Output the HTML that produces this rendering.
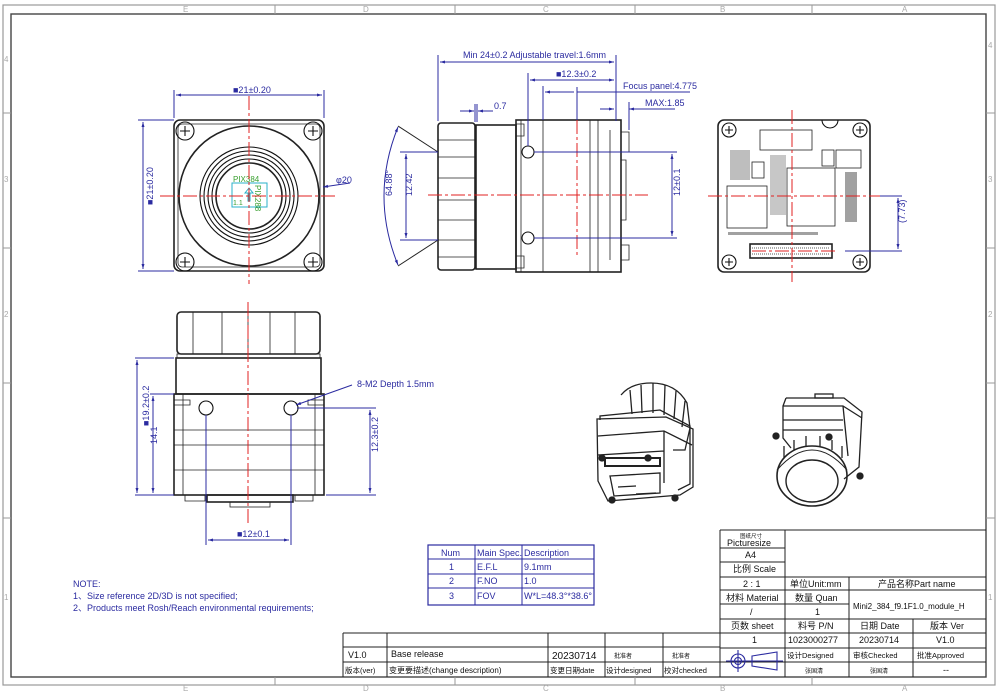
<!DOCTYPE html>
<html><head><meta charset="utf-8"><style>
html,body{margin:0;padding:0;background:#fff}
svg{display:block}
text{font-family:"Liberation Sans","Noto Sans CJK SC",sans-serif}
.b{stroke:#2b2ba0;fill:none;stroke-width:1}
.bt{fill:#2b2ba0;font-size:9px}
.k{stroke:#222;fill:none;stroke-width:1.6}
.kt{stroke:#222;fill:none;stroke-width:0.8}
.r{stroke:#e02020;fill:none;stroke-width:1;stroke-dasharray:14 3 3 3}
.g{stroke:#111;fill:none;stroke-width:1.1}
.t{fill:#111;font-size:9px}
</style></head><body>
<svg width="1000" height="692" viewBox="0 0 1000 692" xmlns="http://www.w3.org/2000/svg">
<defs>
<marker id="a" viewBox="0 0 10 10" refX="10" refY="5" markerWidth="7" markerHeight="5" orient="auto-start-reverse"><path d="M0,2 L10,5 L0,8z" fill="#2b2ba0"/></marker>
</defs>
<!-- frame -->
<rect x="3" y="5" width="992" height="680" fill="none" stroke="#999" stroke-width="1.2"/>
<rect x="11" y="14" width="975" height="663" fill="none" stroke="#444" stroke-width="1.4"/>
<g stroke="#999" stroke-width="1">
<line x1="275" y1="5" x2="275" y2="14"/><line x1="455" y1="5" x2="455" y2="14"/><line x1="635" y1="5" x2="635" y2="14"/><line x1="812" y1="5" x2="812" y2="14"/>
<line x1="275" y1="677" x2="275" y2="685"/><line x1="455" y1="677" x2="455" y2="685"/><line x1="635" y1="677" x2="635" y2="685"/><line x1="812" y1="677" x2="812" y2="685"/>
<line x1="3" y1="113" x2="11" y2="113"/><line x1="3" y1="248" x2="11" y2="248"/><line x1="3" y1="383" x2="11" y2="383"/><line x1="3" y1="518" x2="11" y2="518"/>
<line x1="986" y1="113" x2="995" y2="113"/><line x1="986" y1="248" x2="995" y2="248"/><line x1="986" y1="383" x2="995" y2="383"/><line x1="986" y1="518" x2="995" y2="518"/>
</g>
<g fill="#aaa" font-size="8">
<text x="183" y="12">E</text><text x="363" y="12">D</text><text x="543" y="12">C</text><text x="720" y="12">B</text><text x="902" y="12">A</text>
<text x="183" y="691">E</text><text x="363" y="691">D</text><text x="543" y="691">C</text><text x="720" y="691">B</text><text x="902" y="691">A</text>
<text x="4" y="62">4</text><text x="4" y="182">3</text><text x="4" y="317">2</text><text x="4" y="600">1</text>
<text x="988" y="48">4</text><text x="988" y="182">3</text><text x="988" y="317">2</text><text x="988" y="600">1</text>
</g>

<!-- FRONT VIEW -->
<g>
<rect x="174" y="120" width="150" height="151" rx="6" class="k"/>
<rect x="178" y="124" width="142" height="143" rx="4" class="kt"/>
<circle cx="249" cy="196" r="70" class="k"/>
<circle cx="249" cy="196" r="49" class="g"/>
<circle cx="249" cy="196" r="45" class="g"/>
<circle cx="249" cy="196" r="41" class="g"/>
<circle cx="249" cy="196" r="37" class="g"/>
<circle cx="249" cy="196" r="33" class="k"/>
<g class="g">
<circle cx="185" cy="131" r="9"/><circle cx="313" cy="131" r="9"/><circle cx="185" cy="262" r="9"/><circle cx="313" cy="262" r="9"/>
<path d="M180,131h10M185,126v10M308,131h10M313,126v10M180,262h10M185,257v10M308,262h10M313,257v10"/>
</g>
<rect x="232" y="183" width="35" height="24" fill="none" stroke="#2ab0c8"/>
<text x="233" y="182" fill="#3aa030" font-size="8">PIX384</text>
<text x="233" y="205" fill="#3aa030" font-size="7">1.1</text>
<text x="270" y="200" fill="#3aa030" font-size="8" transform="rotate(90 270 185)">PIX288</text>
<path d="M249,188 l-4,5 h3 v8 h2 v-8 h3z" fill="none" stroke="#2ab0c8"/>
<line x1="249" y1="96" x2="249" y2="284" class="r"/>
<line x1="160" y1="196" x2="335" y2="196" class="r"/>
<line x1="174" y1="90" x2="174" y2="118" class="b"/><line x1="324" y1="90" x2="324" y2="118" class="b"/>
<line x1="176" y1="95" x2="322" y2="95" class="b" marker-start="url(#a)" marker-end="url(#a)"/>
<text x="233" y="93" class="bt">■21±0.20</text>
<line x1="138" y1="120" x2="174" y2="120" class="b"/><line x1="138" y1="271" x2="174" y2="271" class="b"/>
<line x1="143" y1="122" x2="143" y2="269" class="b" marker-start="url(#a)" marker-end="url(#a)"/>
<text x="140" y="218" class="bt" transform="rotate(-90 140 205)">■21±0.20</text>
<line x1="350" y1="183" x2="323" y2="187" class="b" marker-end="url(#a)"/>
<text x="336" y="183" class="bt">φ20</text>
</g>

<!-- SIDE VIEW -->
<g>
<rect x="438" y="123" width="37" height="147" rx="3" class="k"/>
<path d="M438,140h37M438,157h37M438,178h37M438,200h37M438,220h37M438,240h37M438,257h37" class="kt"/>
<rect x="476" y="125" width="40" height="144" class="k"/>
<rect x="516" y="120" width="105" height="152" class="k"/>
<path d="M521,120v152M543,120v152M590,120v152M598,120v152M610,130v130" class="kt"/>
<path d="M516,124h8v12h-8M516,256h8v12h-8" class="kt"/>
<circle cx="528" cy="152" r="6" class="g"/><circle cx="528" cy="238" r="6" class="g"/>
<path d="M621,132h8v20h-8M621,245h8v15h-8M621,160h5v60h-5" class="kt"/>
<line x1="428" y1="195" x2="648" y2="195" class="r"/>
<line x1="577" y1="120" x2="577" y2="255" class="r"/>
<path d="M398,127 Q370,196 398,265" class="b" marker-start="url(#a)" marker-end="url(#a)"/>
<line x1="398" y1="126" x2="438" y2="152" stroke="#222"/><line x1="398" y1="266" x2="438" y2="240" stroke="#222"/>
<text x="378" y="210" class="bt" transform="rotate(-90 378 196)">64.88°</text>
<line x1="400" y1="152" x2="438" y2="152" class="b"/><line x1="400" y1="240" x2="438" y2="240" class="b"/>
<line x1="406" y1="154" x2="406" y2="238" class="b" marker-start="url(#a)" marker-end="url(#a)"/>
<text x="404" y="204" class="bt" transform="rotate(-90 404 196)">12.42</text>
<line x1="534" y1="152" x2="677" y2="152" class="b"/><line x1="534" y1="238" x2="677" y2="238" class="b"/>
<line x1="672" y1="154" x2="672" y2="236" class="b" marker-start="url(#a)" marker-end="url(#a)"/>
<text x="670" y="206" class="bt" transform="rotate(-90 670 196)">12±0.1</text>
<line x1="438" y1="55" x2="438" y2="121" class="b"/><line x1="616" y1="55" x2="616" y2="121" class="b"/>
<line x1="440" y1="62" x2="614" y2="62" class="b" marker-start="url(#a)" marker-end="url(#a)"/>
<text x="463" y="58" class="bt">Min 24±0.2 Adjustable travel:1.6mm</text>
<line x1="528" y1="73" x2="528" y2="146" class="b"/>
<line x1="530" y1="80" x2="614" y2="80" class="b" marker-start="url(#a)" marker-end="url(#a)"/>
<text x="556" y="77" class="bt">■12.3±0.2</text>
<line x1="543" y1="86" x2="543" y2="120" class="b"/>
<line x1="545" y1="92" x2="574" y2="92" class="b" marker-start="url(#a)"/>
<line x1="577" y1="87" x2="577" y2="120" class="b"/>
<line x1="577" y1="92" x2="690" y2="92" class="b"/>
<text x="623" y="89" class="bt">Focus panel:4.775</text>
<line x1="600" y1="109" x2="614" y2="109" class="b" marker-end="url(#a)"/>
<line x1="629" y1="109" x2="675" y2="109" class="b" marker-start="url(#a)"/>
<line x1="629" y1="102" x2="629" y2="130" class="b"/>
<text x="645" y="106" class="bt">MAX:1.85</text>
<line x1="460" y1="111" x2="474" y2="111" class="b" marker-end="url(#a)"/>
<line x1="478" y1="111" x2="493" y2="111" class="b" marker-start="url(#a)"/>
<text x="494" y="109" class="bt">0.7</text>
<line x1="475" y1="104" x2="475" y2="122" class="b"/><line x1="477" y1="104" x2="477" y2="122" class="b"/>
</g>

<!-- BACK PCB -->
<g>
<rect x="718" y="120" width="152" height="152" rx="6" class="k"/>
<g class="g"><circle cx="729" cy="130" r="7"/><circle cx="860" cy="130" r="7"/><circle cx="729" cy="262" r="7"/><circle cx="860" cy="262" r="7"/>
<path d="M725,130h8M729,126v8M856,130h8M860,126v8M725,262h8M729,258v8M856,262h8M860,258v8"/></g>
<path d="M822,120 a8,8 0 0 0 16,0" class="g"/>
<rect x="760" y="130" width="52" height="20" class="kt"/>
<rect x="787" y="168" width="48" height="58" class="kt"/>
<rect x="727" y="186" width="40" height="42" class="kt"/>
<rect x="836" y="150" width="25" height="18" class="kt"/>
<rect x="822" y="150" width="12" height="16" class="kt"/>
<rect x="752" y="162" width="12" height="16" class="kt"/>
<rect x="750" y="244" width="82" height="14" class="k"/>
<path d="M752,248h78M752,254h78" class="kt" stroke-dasharray="1 1"/>
<g fill="#444">
<rect x="845" y="172" width="12" height="50" opacity=".5"/>
<rect x="728" y="232" width="90" height="3" opacity=".5"/>
<rect x="730" y="150" width="20" height="30" opacity=".35"/>
<rect x="770" y="155" width="16" height="60" opacity=".3"/>
</g>
<line x1="792" y1="110" x2="792" y2="282" class="r"/>
<line x1="708" y1="196" x2="880" y2="196" class="r"/>
<line x1="752" y1="251" x2="838" y2="251" class="r"/>
<line x1="880" y1="196" x2="902" y2="196" class="b"/><line x1="845" y1="251" x2="902" y2="251" class="b"/>
<line x1="898" y1="198" x2="898" y2="249" class="b" marker-start="url(#a)" marker-end="url(#a)"/>
<text x="896" y="232" class="bt" transform="rotate(-90 896 223)">(7.73)</text>
</g>

<!-- BOTTOM VIEW -->
<g>
<rect x="177" y="312" width="143" height="42" rx="4" class="k"/>
<path d="M193,312v42M222,312v42M248,312v42M270,312v42M295,312v42" class="kt"/>
<rect x="177" y="354" width="143" height="4" class="kt"/>
<rect x="176" y="358" width="145" height="36" class="k"/>
<rect x="174" y="394" width="150" height="101" class="k"/>
<path d="M183,394v101M315,394v101M174,430h150M174,445h150M174,470h150" class="kt"/>
<path d="M174,400h16v5h-16M324,400h-16v5h16" class="kt"/>
<circle cx="206" cy="408" r="7" class="g"/><circle cx="291" cy="408" r="7" class="g"/>
<rect x="207" y="495" width="86" height="7" class="k"/>
<rect x="230" y="502" width="40" height="5" class="kt"/>
<path d="M185,495v6h20v-6M295,495v6h18v-6" class="kt"/>
<line x1="248" y1="302" x2="248" y2="525" class="r"/>
<line x1="135" y1="358" x2="174" y2="358" class="b"/><line x1="135" y1="495" x2="174" y2="495" class="b"/>
<line x1="137" y1="360" x2="137" y2="493" class="b" marker-start="url(#a)" marker-end="url(#a)"/>
<text x="135" y="440" class="bt" transform="rotate(-90 135 426)">■19.2±0.2</text>
<line x1="150" y1="394" x2="174" y2="394" class="b"/>
<line x1="153" y1="396" x2="153" y2="493" class="b" marker-start="url(#a)" marker-end="url(#a)"/>
<text x="151" y="450" class="bt" transform="rotate(-90 151 444)">14.1</text>
<line x1="297" y1="408" x2="376" y2="408" class="b"/><line x1="326" y1="495" x2="376" y2="495" class="b"/>
<line x1="370" y1="410" x2="370" y2="493" class="b" marker-start="url(#a)" marker-end="url(#a)"/>
<text x="368" y="462" class="bt" transform="rotate(-90 368 452)">12.3±0.2</text>
<line x1="206" y1="415" x2="206" y2="545" class="b"/><line x1="291" y1="415" x2="291" y2="545" class="b"/>
<line x1="208" y1="540" x2="289" y2="540" class="b" marker-start="url(#a)" marker-end="url(#a)"/>
<text x="237" y="537" class="bt">■12±0.1</text>
<line x1="352" y1="385" x2="296" y2="405" class="b" marker-end="url(#a)"/>
<text x="357" y="387" class="bt">8-M2 Depth 1.5mm</text>
</g>

<!-- 3D left: back view of module -->
<g stroke="#222" fill="none" stroke-width="1.3">
<path d="M621,395 q10,-12 30,-12 q25,0 36,20 l3,25 l-5,22 l-12,0"/>
<path d="M630,390l2,24M641,385l1,28M653,383l0,30M665,385l-1,30M676,391l-2,28M685,401l-3,26"/>
<path d="M600,420 l0,-4 l60,-6 l30,16 l0,58 l-12,6"/>
<path d="M597,419 l1,62 l10,20 l72,-6 l13,-8 l0,-58 l-27,-12z"/>
<path d="M598,436 l66,-5 l28,14 M664,431 l0,52 M598,455 l66,-4"/>
<rect x="605" y="458" width="55" height="8" stroke-width="2"/>
<path d="M610,476 l50,-3 l0,20 l-46,3z"/>
<path d="M618,487l18,-1M636,494 l20,-1"/>
<circle cx="602" cy="458" r="3" fill="#222"/><circle cx="648" cy="458" r="3" fill="#222"/><circle cx="612" cy="500" r="3" fill="#222"/><circle cx="675" cy="498" r="3" fill="#222"/>
</g>
<!-- 3D right: front view with lens -->
<g stroke="#222" fill="none" stroke-width="1.3">
<path d="M786,398 l58,0 l18,14 l-3,55 l-15,12"/>
<path d="M786,398 l-3,8 l0,32 l8,10 M783,406 l60,0 l19,12 M843,406 l5,50"/>
<path d="M783,420 l60,0 M783,430 l60,0"/>
<rect x="815" y="394" width="18" height="4"/>
<ellipse cx="812" cy="476" rx="35" ry="30" stroke-width="1.6"/>
<ellipse cx="812" cy="481" rx="26" ry="21" stroke-width="1.4"/>
<path d="M784,458 l0,-12M794,450 l0,-10M806,446 l0,-10M820,446 l0,-10M832,450 l0,-10M842,458 l0,-12"/>
<path d="M777,470 q35,-40 70,0" stroke-width="1"/>
<circle cx="776" cy="436" r="3" fill="#222"/><circle cx="829" cy="437" r="3" fill="#222"/><circle cx="860" cy="476" r="3" fill="#222"/>
</g>

<!-- spec table -->
<g>
<rect x="428" y="545" width="166" height="60" fill="none" stroke="#2b2ba0" stroke-width="1.2"/>
<path d="M428,559h166M428,574h166M428,588h166M475,545v60M522,545v60" class="b"/>
<g class="bt" font-size="8.5">
<text x="441" y="556">Num</text><text x="477" y="556">Main Spec.</text><text x="524" y="556">Description</text>
<text x="449" y="570">1</text><text x="477" y="570">E.F.L</text><text x="524" y="570">9.1mm</text>
<text x="449" y="584">2</text><text x="477" y="584">F.NO</text><text x="524" y="584">1.0</text>
<text x="449" y="599">3</text><text x="477" y="599">FOV</text><text x="524" y="599">W*L=48.3°*38.6°</text>
</g>
</g>

<g class="bt" font-size="8.5">
<text x="73" y="587">NOTE:</text>
<text x="73" y="599">1、Size reference 2D/3D is not specified;</text>
<text x="73" y="611">2、Products meet Rosh/Reach environmental requirements;</text>
</g>

<!-- revision block -->
<g stroke="#222" stroke-width="1" fill="none">
<path d="M343,633h377M343,647h377M343,662h377M343,633v44M387,633v44M548,633v44M605,633v44M663,633v44"/>
</g>
<g class="t">
<text x="348" y="658">V1.0</text><text x="391" y="657">Base release</text><text x="552" y="659" font-size="10">20230714</text>
<text x="614" y="658" font-size="6">批准者</text><text x="672" y="658" font-size="6">批准者</text>
<text x="345" y="673" font-size="7.5">版本(ver)</text><text x="389" y="673" font-size="8">变更要描述(change description)</text>
<text x="550" y="673" font-size="7.5">变更日期date</text><text x="606" y="673" font-size="7.5">设计designed</text><text x="664" y="673" font-size="7.5">校对checked</text>
</g>

<!-- title block -->
<g stroke="#222" stroke-width="1" fill="none">
<path d="M720,530h266M720,530v147M720,548h65M720,562h65M720,577h266M720,590h266M720,604h129M720,619h266M720,633h266M720,648h266M720,662h266M785,530v147M849,577v100M913,619v58"/>
</g>
<g class="t" font-size="8.5">
<text x="740" y="538" font-size="5.5">图纸尺寸</text><text x="727" y="546">Picturesize</text>
<text x="745" y="558">A4</text><text x="733" y="572">比例 Scale</text>
<text x="743" y="587">2 : 1</text><text x="790" y="587">单位Unit:mm</text><text x="878" y="587">产品名称Part name</text>
<text x="726" y="601">材料 Material</text><text x="795" y="601">数量 Quan</text>
<text x="750" y="615">/</text><text x="815" y="615">1</text>
<text x="853" y="609" font-size="8">Mini2_384_f9.1F1.0_module_H</text>
<text x="731" y="629">页数 sheet</text><text x="798" y="629">料号 P/N</text><text x="860" y="629">日期 Date</text><text x="930" y="629">版本 Ver</text>
<text x="752" y="643">1</text><text x="788" y="643">1023000277</text><text x="859" y="643">20230714</text><text x="936" y="643">V1.0</text>
<text x="787" y="658" font-size="7.5">设计Designed</text><text x="853" y="658" font-size="7.5">审核Checked</text><text x="917" y="658" font-size="7.5">批准Approved</text>
<text x="805" y="673" font-size="6">张国清</text><text x="870" y="673" font-size="6">张国清</text><text x="943" y="673">--</text>
</g>
<g stroke="#2b2ba0" fill="none" stroke-width="1.1">
<circle cx="738" cy="661" r="7"/><circle cx="738" cy="661" r="3.5"/><path d="M726,661h24M738,650v22"/>
<path d="M752,656 l25,-4 v18 l-25,-4z M745,661h38"/>
</g>
</svg>
</body></html>
